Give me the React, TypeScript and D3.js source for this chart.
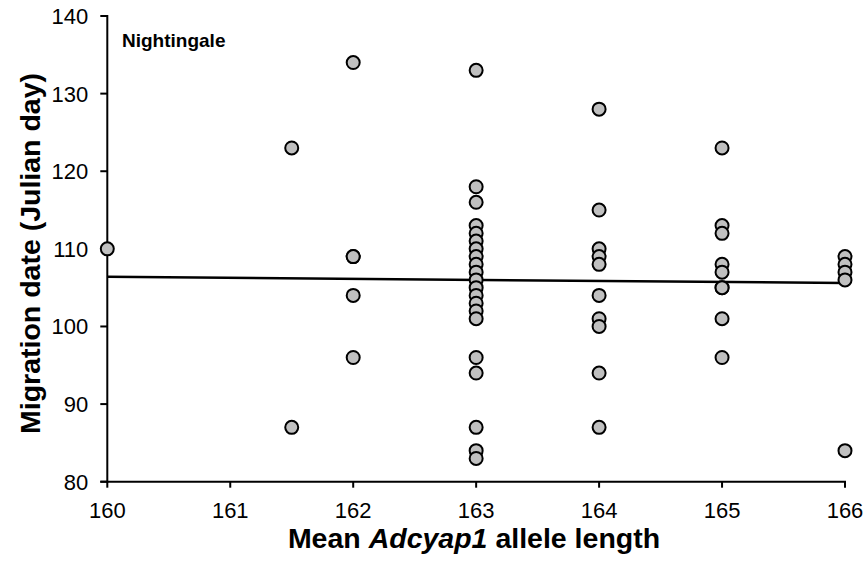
import React from "react";
import * as d3 from "d3";

// Observations: mean allele length (x) and migration date (y)
const allele160 = [110];
const allele161_5 = [123, 87];
const allele162 = [134, 109, 109, 104, 96];
const allele163 = [133, 118, 116, 113, 112, 111, 110, 109, 108, 107, 106, 105, 104, 103, 102, 101, 96, 94, 87, 84, 83];
const allele164 = [128, 115, 110, 109, 108, 104, 101, 100, 94, 87];
const allele165 = [123, 113, 112, 108, 107, 105, 105, 101, 96];
const allele166 = [109, 108, 107, 106, 84];

const groups: [number, number[]][] = [
  [160, allele160],
  [161.5, allele161_5],
  [162, allele162],
  [163, allele163],
  [164, allele164],
  [165, allele165],
  [166, allele166],
];

// Fitted regression line endpoints
const trendX = [160, 166];
const trendY = [106.4, 105.6];

const xTicks = [160, 161, 162, 163, 164, 165, 166];
const yTicks = [80, 90, 100, 110, 120, 130, 140];

const W = 868;
const H = 563;
const left = 107.3;
const right = 845;
const top = 16;
const bottom = 481.7;

export default function App() {
  const x = d3.scaleLinear().domain([160, 166]).range([left, right]);
  const y = d3.scaleLinear().domain([80, 140]).range([bottom, top]);
  const points = groups.flatMap(([gx, vals]) => vals.map((v) => ({ gx, v })));
  const line = d3
    .line<number>()
    .x((_, i) => x(trendX[i]))
    .y((d) => y(d));
  const font = "Arial, 'Liberation Sans', sans-serif";

  return (
    <svg
      width={W}
      height={H}
      style={{ position: "absolute", left: 0, top: 0, background: "#fff" }}
      fontFamily={font}
    >
      {/* y axis */}
      <line x1={left} x2={left} y1={top - 1} y2={bottom + 1} stroke="#000" strokeWidth={2} />
      {yTicks.map((t) => (
        <g key={t}>
          <line x1={left - 7} x2={left} y1={y(t)} y2={y(t)} stroke="#000" strokeWidth={2} />
          <text x={left - 19} y={y(t)} dy="0.36em" textAnchor="end" fontSize={22} fill="#000">
            {t}
          </text>
        </g>
      ))}
      {/* x axis */}
      <line x1={left - 7} x2={right + 1} y1={bottom} y2={bottom} stroke="#000" strokeWidth={2} />
      {xTicks.map((t) => (
        <g key={t}>
          <line x1={x(t)} x2={x(t)} y1={bottom} y2={bottom + 6} stroke="#000" strokeWidth={2} />
          <text x={x(t)} y={518} textAnchor="middle" fontSize={22} fill="#000">
            {t}
          </text>
        </g>
      ))}
      {/* trend line */}
      <path d={line(trendY) || ""} stroke="#000" strokeWidth={2.5} fill="none" />
      {/* observations */}
      {points.map((p, i) => (
        <circle key={i} cx={x(p.gx)} cy={y(p.v)} r={6.5} fill="#c0c0c0" stroke="#000" strokeWidth={2} />
      ))}
      <text x={122} y={47} fontSize={19} fontWeight="bold" fill="#000">
        Nightingale
      </text>
      <text x={474} y={548} textAnchor="middle" fontSize={28.5} fontWeight="bold" fill="#000">
        Mean <tspan fontStyle="italic">Adcyap1</tspan> allele length
      </text>
      <text
        transform="translate(40, 253.5) rotate(-90)"
        textAnchor="middle"
        fontSize={28.5}
        fontWeight="bold"
        fill="#000"
      >
        Migration date (Julian day)
      </text>
    </svg>
  );
}
